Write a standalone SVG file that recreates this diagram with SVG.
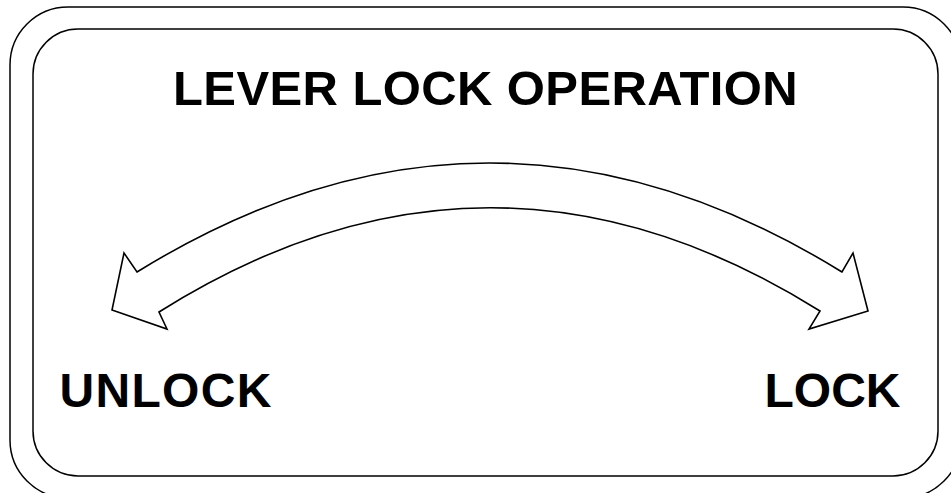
<svg xmlns="http://www.w3.org/2000/svg" width="951" height="493" viewBox="0 0 951 493">
<style>
.frame{fill:none;stroke:#000;stroke-width:1.5}
.arrow{fill:#fff;stroke:#000;stroke-width:1.6;stroke-linejoin:miter}
.lbl{font-family:"Liberation Sans",Arial,sans-serif;font-weight:bold;fill:#000}
</style>
<rect width="951" height="493" fill="#fff"/>
<g id="frame">
<rect class="frame" x="10" y="7" width="951" height="491" rx="58" ry="58"/>
<rect class="frame" x="33" y="29" width="905" height="447" rx="45" ry="45"/>
</g>
<g id="title"><text class="lbl" x="173" y="105" font-size="49" letter-spacing="0.4">LEVER LOCK OPERATION</text></g>
<g id="connectors">
<path class="arrow" d="M137,272 Q489.5,54 842,272 L853,253 L868,311 L809,329 L820,311 Q489.5,104 159,312 L167,329 L112,310 L124,253 Z"/>
</g>
<g id="unlock"><text class="lbl" x="59.5" y="407" font-size="48" letter-spacing="1.3">UNLOCK</text></g>
<g id="lock"><text class="lbl" x="764.5" y="407" font-size="48">LOCK</text></g>
</svg>
